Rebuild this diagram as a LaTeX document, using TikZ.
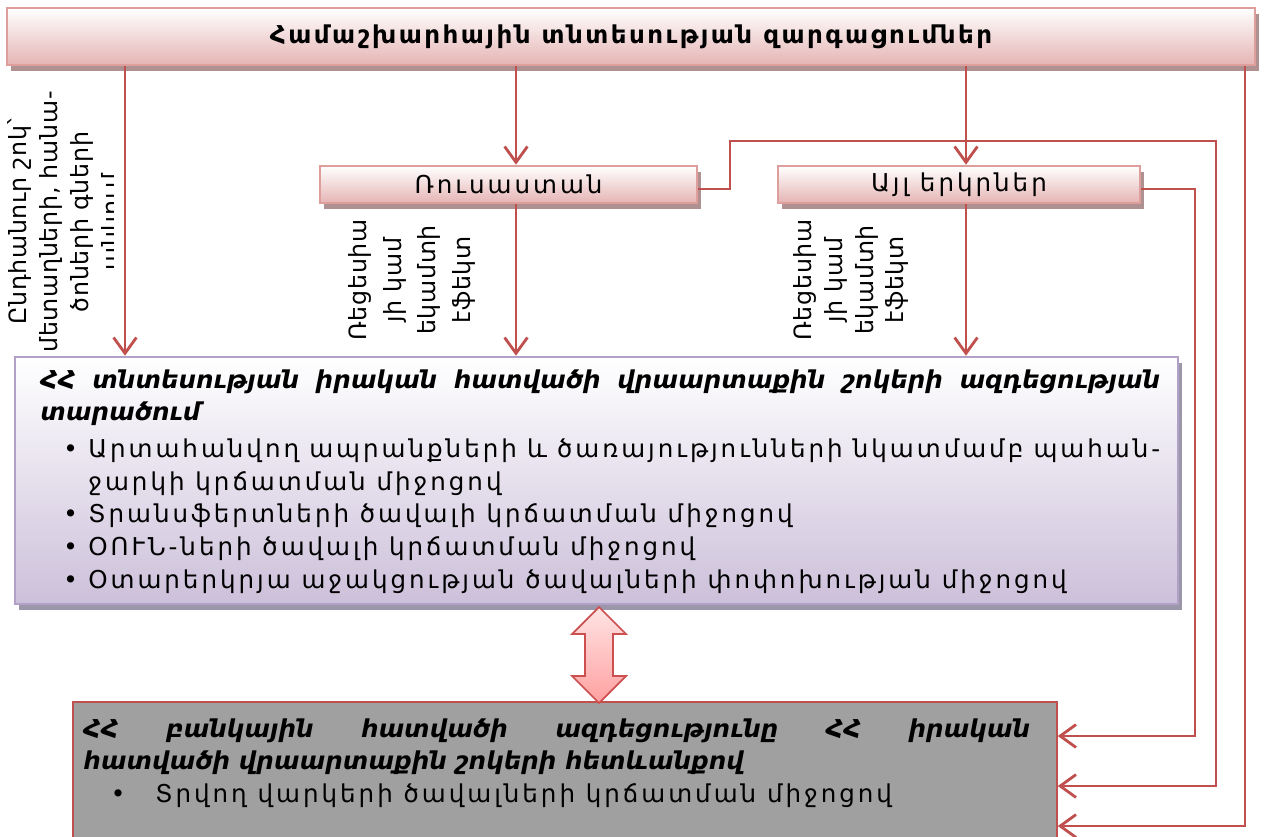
\documentclass[tikz,border=0pt]{standalone}
\usepackage{fontspec}
\setmainfont{DejaVu Sans}
\newfontfamily\armbody{DejaVu Sans}[LetterSpace=12]
\newfontfamily\armlabel{DejaVu Sans}[LetterSpace=3]
\newfontfamily\armtitle{DejaVu Sans Bold}[LetterSpace=10]
\newfontfamily\armhead{DejaVu Sans}
\usetikzlibrary{arrows.meta,shadows}

\definecolor{linkred}{RGB}{192,80,77}
\definecolor{pinkedge}{RGB}{222,158,156}
\definecolor{pinkfill}{RGB}{230,180,180}
\definecolor{pinkshadow}{RGB}{175,145,145}
\definecolor{lavedge}{RGB}{178,161,199}
\definecolor{lavfill}{RGB}{204,192,218}
\definecolor{lavshadow}{RGB}{155,150,170}
\definecolor{bankgray}{RGB}{160,160,160}
\definecolor{arrowtop}{RGB}{255,228,228}
\definecolor{arrowbot}{RGB}{255,160,160}
\definecolor{arrowedge}{RGB}{205,80,80}

\newenvironment{dotlist}[2]{\begin{list}{\textbullet}{\setlength\leftmargin{#1}\setlength\labelsep{#2}%
  \setlength\itemsep{0pt}\setlength\parsep{0pt}\setlength\topsep{0pt}\setlength\partopsep{0pt}}}{\end{list}}

\begin{document}
\begin{tikzpicture}[x=0.02cm,y=-0.02cm,
  box/.style={draw, line width=1.5pt, inner sep=0pt},
  pinkbox/.style={box, draw=pinkedge, top color=white, bottom color=pinkfill,
    general shadow={fill=pinkshadow, shadow xshift=0.08cm, shadow yshift=-0.12cm}},
  lavbox/.style={box, draw=lavedge, top color=white, bottom color=lavfill,
    general shadow={fill=lavshadow, shadow xshift=0.08cm, shadow yshift=-0.12cm}},
  bankbox/.style={draw=linkred, line width=1pt, fill=bankgray, inner sep=0pt},
  link/.style={draw=linkred, line width=1.6pt, -{Straight Barb[length=9pt,width=13pt]}},
  vlabel/.style={rotate=90, align=center, inner sep=0pt, font=\armlabel\fontsize{13.5}{#1}\selectfont},
  bodytext/.style={font=\armbody\fontsize{14}{18.7}\selectfont}]

  \useasboundingbox (0,0) rectangle (1264,836);

  % boxes
  \node[pinkbox, minimum width=24.96cm, minimum height=1.14cm] (title) at (631,36.5)
    {\armtitle\fontsize{14}{18}\selectfont Համաշխարհային տնտեսության զարգացումներ};
  \node[pinkbox, minimum width=7.54cm, minimum height=0.74cm, bodytext] (rus) at (508.5,184.5) {Ռուսաստան};
  \node[pinkbox, minimum width=7.24cm, minimum height=0.74cm, bodytext] (other) at (959,184.5) {Այլ երկրներ};
  \node[lavbox, minimum width=23.26cm, minimum height=4.94cm] (main) at (596.5,480.5) {};
  \node[bankbox, minimum width=19.68cm, minimum height=2.86cm] (bank) at (565,773.5) {};

  % texts
  \node[anchor=north west, text width=22.4cm, align=justify, inner sep=0pt, bodytext] (mainText) at (40,369) {%
    {\armhead\bfseries\itshape ՀՀ տնտեսության իրական հատվածի վրաարտաքին շոկերի ազդեցության\linebreak տարածում\par}
    \vspace{2pt}
    \begin{dotlist}{0.96cm}{6pt}
    \item Արտահանվող ապրանքների և ծառայությունների նկատմամբ պահան-\linebreak ջարկի կրճատման միջոցով
    \item Տրանսֆերտների ծավալի կրճատման միջոցով
    \item ՕՈՒՆ-ների ծավալի կրճատման միջոցով
    \item Օտարերկրյա աջակցության ծավալների փոփոխության միջոցով
    \end{dotlist}};
  \node[anchor=north west, text width=18.94cm, align=justify, inner sep=0pt, bodytext] (bankText) at (83,718) {%
    {\armhead\bfseries\itshape ՀՀ բանկային հատվածի ազդեցությունը ՀՀ իրական\linebreak հատվածի վրաարտաքին շոկերի հետևանքով\par}
    \begin{dotlist}{1.44cm}{17pt}
    \item Տրվող վարկերի ծավալների կրճատման միջոցով
    \end{dotlist}};

  \begin{scope}
    \clip (0,70) rectangle (113,355);
    \node[vlabel=17.5] (shockLbl) at (66,222) {Ընդհանուր շոկ՝\\ մետաղների, հանա-\\ ծոների գների\\ անկում};
  \end{scope}
  \node[vlabel=19.8] (rusLbl) at (412,280) {Ռեցեսիա\\ յի կամ\\ եկամտի\\ էֆեկտ};
  \node[vlabel=17.6] (otherLbl) at (851,280) {Ռեցեսիա\\ յի կամ\\ եկամտի\\ էֆեկտ};

  % links
  \draw[link] (125,0 |- title.south) -- (125,0 |- main.north);
  \draw[link] (516,0 |- title.south) -- (516,0 |- rus.north);
  \draw[link] (966,0 |- title.south) -- (966,0 |- other.north);
  \draw[link] (516,0 |- rus.south) -- (516,0 |- main.north);
  \draw[link] (966,0 |- other.south) -- (966,0 |- main.north);
  \draw[link] (1245,0 |- title.south) -- (1245,826) -- (bank.east |- 0,826);
  \draw[link] (rus.east |- 0,189) -- (730,189) -- (730,141) -- (1216,141) -- (1216,786) -- (bank.east |- 0,786);
  \draw[link] (other.east |- 0,189) -- (1195,189) -- (1195,736) -- (bank.east |- 0,736);

  % double arrow
  \draw[line width=1pt, draw=arrowedge, top color=arrowtop, bottom color=arrowbot]
    (599,607) -- (626,634) -- (613,634) -- (613,676) -- (626,676) -- (599,703)
    -- (572,676) -- (585,676) -- (585,634) -- (572,634) -- cycle;

\end{tikzpicture}
\end{document}
